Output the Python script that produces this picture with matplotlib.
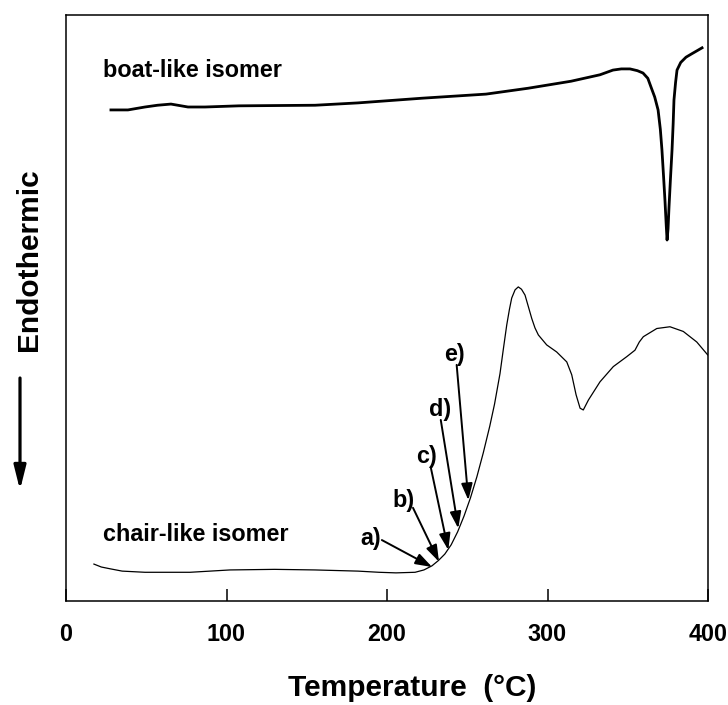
import matplotlib
matplotlib.use("Agg")
import matplotlib.pyplot as plt

# ---- data (arbitrary heat-flow units 0..100) ----
boat_T = [28.0, 38.6, 49.2, 57.0, 65.4, 76.0, 86.6, 107.8, 155.2, 181.9, 221.8, 261.7,
          287.9, 314.7, 332.7, 340.8, 346.0, 351.4, 356.0, 359.5, 362.5, 364.5, 366.8,
          368.9, 370.3, 371.3, 372.3, 373.2, 374.0, 374.5, 375.1, 375.7, 376.6, 377.6,
          378.3, 378.8, 379.8, 380.7, 383.0, 386.3, 390.0, 393.8, 396.3]
boat_S = [83.8, 83.8, 84.3, 84.6, 84.8, 84.3, 84.3, 84.5, 84.6, 85.0, 85.8, 86.5,
          87.5, 88.7, 89.8, 90.6, 90.8, 90.8, 90.5, 90.1, 89.2, 87.7, 86.0,
          83.8, 80.5, 77.0, 72.5, 68.3, 64.0, 61.6, 63.5, 67.2, 72.0, 77.0,
          81.5, 85.5, 88.5, 90.6, 91.9, 92.8, 93.4, 94.0, 94.4]

chair_T = [17.4, 22.0, 27.4, 35.0, 49.2, 77.3, 102.2, 130.0, 155.1, 181.9, 195.0, 205.6,
           217.5, 223.0, 228.0, 232.0, 236.0, 240.0, 244.0, 248.0, 252.0, 256.0, 260.0,
           264.0, 267.0, 270.4, 272.5, 274.6, 276.3, 277.7, 279.8, 281.8, 283.8, 286.0,
           288.0, 290.2, 292.2, 294.3, 299.5, 305.7, 312.0, 315.1, 317.8, 320.3, 322.3,
           325.5, 332.7, 341.0, 349.4, 354.5, 357.2, 359.7, 368.1, 376.3, 384.6, 393.0,
           399.8]
chair_S = [6.3, 5.8, 5.5, 5.1, 4.9, 4.9, 5.3, 5.4, 5.3, 5.1, 4.9, 4.8,
           4.9, 5.3, 6.0, 6.9, 8.0, 9.6, 11.8, 14.5, 17.6, 21.2, 25.3,
           29.8, 33.6, 38.8, 43.0, 47.1, 49.8, 51.7, 53.1, 53.6, 53.2, 52.2,
           50.3, 48.2, 46.6, 45.4, 43.7, 42.5, 40.8, 38.6, 35.2, 32.9, 32.6,
           34.3, 37.4, 40.0, 41.7, 42.8, 44.2, 45.1, 46.5, 46.8, 46.0, 44.2,
           42.0]

arrow_labels = ["a)", "b)", "c)", "d)", "e)"]
label_T = [190.0, 210.6, 224.9, 233.0, 241.8]
label_S = [10.75, 17.1, 24.7, 32.6, 42.0]
tail_T = [196.8, 216.2, 227.2, 233.5, 243.4]
tail_S = [10.4, 15.9, 22.9, 30.9, 40.3]
tip_T = [228.1, 232.4, 238.2, 244.4, 250.7]
tip_S = [5.8, 6.7, 8.7, 12.4, 17.2]

x_ticks = [0, 100, 200, 300, 400]
x_tick_labels = ["0", "100", "200", "300", "400"]

# ---- figure ----
plt.rcParams['font.family'] = ['Liberation Sans', 'DejaVu Sans']
fig = plt.figure(figsize=(7.28, 7.05), dpi=100)
ax = fig.add_axes([66 / 728, 104 / 705, 642 / 728, 586 / 705])

ax.plot(boat_T, boat_S, color='black', lw=2.0, solid_joinstyle='round')
ax.plot(chair_T, chair_S, color='black', lw=0.9, solid_joinstyle='round')

ax.text(23.0, 89.4, "boat-like isomer", fontsize=16.8, fontweight='bold', ha='left', va='baseline')
ax.text(23.0, 10.24, "chair-like isomer", fontsize=16.8, fontweight='bold', ha='left', va='baseline')

for lab, lx, ly, tx, ty, px, py in zip(arrow_labels, label_T, label_S, tail_T, tail_S, tip_T, tip_S):
    ax.text(lx, ly, lab, fontsize=16.8, fontweight='bold', ha='center', va='center')
    ax.annotate("", xy=(px, py), xytext=(tx, ty),
                arrowprops=dict(arrowstyle='-|>,head_length=0.5,head_width=0.17',
                                mutation_scale=20, lw=1.4, color='black',
                                shrinkA=0, shrinkB=0))

ax.set_xlim(0, 400)
ax.set_ylim(0, 100)
ax.set_xticks(x_ticks)
ax.set_xticklabels(x_tick_labels, fontsize=16.8, fontweight='bold')
ax.set_yticks([])
ax.tick_params(axis='x', direction='in', length=8.6, width=1.1, pad=16)
for sp in ax.spines.values():
    sp.set_linewidth(1.1)

fig.text(412 / 728, 1 - 688 / 705, "Temperature  (\u00b0C)", fontsize=21.5, fontweight='bold',
         ha='center', va='center')
fig.text(29 / 728, 1 - 260 / 705, "Endothermic", fontsize=21.5, fontweight='bold',
         rotation=90, ha='center', va='center')
fig.patches.append(matplotlib.patches.FancyArrowPatch(
    (20 / 728, 1 - 378 / 705), (20 / 728, 1 - 490 / 705), transform=fig.transFigure,
    arrowstyle='-|>,head_length=0.72,head_width=0.18', mutation_scale=20,
    lw=2.3, color='black', shrinkA=0, shrinkB=0))

fig.savefig("out.png", dpi=100)
